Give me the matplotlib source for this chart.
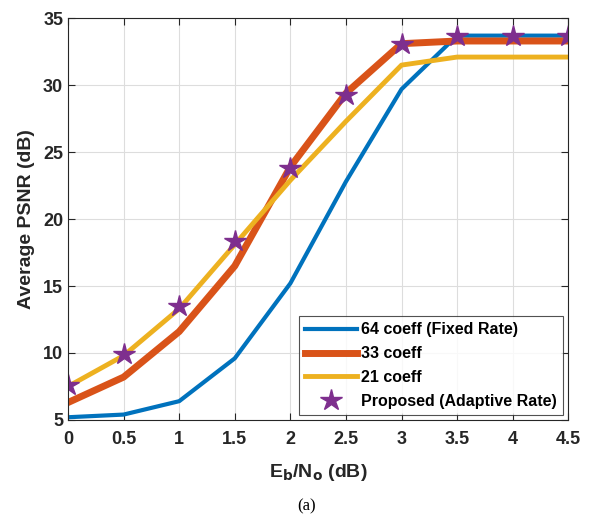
import matplotlib.pyplot as plt
import numpy as np

ebno = [0, 0.5, 1, 1.5, 2, 2.5, 3, 3.5, 4, 4.5]
psnr_64 = [5.2, 5.4, 6.4, 9.6, 15.2, 22.8, 29.7, 33.7, 33.7, 33.7]
psnr_33 = [6.3, 8.2, 11.6, 16.5, 23.9, 29.4, 33.1, 33.3, 33.3, 33.3]
psnr_21 = [7.5, 9.8, 13.3, 18.1, 22.9, 27.3, 31.5, 32.1, 32.1, 32.1]
psnr_adaptive = [7.6, 9.9, 13.5, 18.4, 23.8, 29.3, 33.1, 33.7, 33.7, 33.7]

plt.rcParams['font.family'] = ['Liberation Sans', 'DejaVu Sans']
plt.rcParams['font.weight'] = 'bold'
plt.rcParams['axes.labelweight'] = 'bold'

fig = plt.figure(figsize=(6.13, 5.21), dpi=100)
ax = fig.add_axes([0.111, 0.194, 0.816, 0.771])

ax.plot(ebno, psnr_64, color='#0072BD', lw=3, label='64 coeff (Fixed Rate)')
ax.plot(ebno, psnr_33, color='#D95319', lw=5, label='33 coeff')
ax.plot(ebno, psnr_21, color='#EDB120', lw=3.5, label='21 coeff')
ax.plot(ebno, psnr_adaptive, ls='none', marker='*', ms=16, color='#7E2F8E',
        label='Proposed (Adaptive Rate)')

ax.set_xlim(0, 4.5)
ax.set_ylim(5, 35)
ax.set_xticks(np.arange(0, 4.51, 0.5))
ax.set_xticklabels(['0', '0.5', '1', '1.5', '2', '2.5', '3', '3.5', '4', '4.5'])
ax.set_yticks(range(5, 36, 5))
ax.grid(True, color='#dddddd', lw=0.8)
ax.tick_params(direction='in', top=True, right=True, labelsize=13, colors='#262626', length=5)
ax.tick_params(axis='x', pad=8)
for s in ax.spines.values():
    s.set_color('#262626')
    s.set_linewidth(0.8)

ax.set_xlabel('E$_\\mathbf{b}$/N$_\\mathbf{o}$ (dB)', fontsize=14, color='#262626', labelpad=10)
ax.set_ylabel('Average PSNR (dB)', fontsize=14, color='#262626', labelpad=6)

leg = ax.legend(loc='lower right', fontsize=11.5, frameon=True, fancybox=False,
                edgecolor='#262626', handlelength=3.2, handletextpad=0.3,
                borderaxespad=0.3, labelspacing=0.55)
leg.get_frame().set_linewidth(0.8)

fig.text(0.5, 0.02, '(a)', ha='center', fontsize=12, family='Liberation Serif', weight='normal')

fig.savefig('out.png', dpi=100)
